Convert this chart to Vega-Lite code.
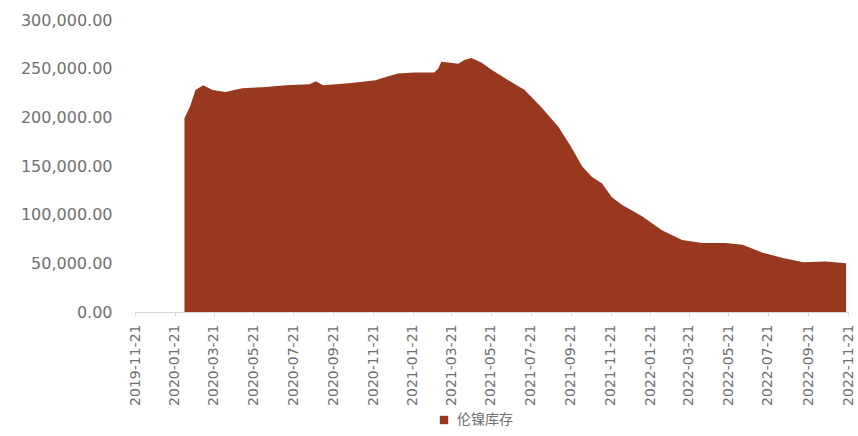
{
  "$schema": "https://vega.github.io/schema/vega-lite/v6.json",
  "width": 713,
  "height": 292,
  "autosize": {"type": "none"},
  "padding": {"left": 135, "top": 20, "right": 10, "bottom": 124},
  "background": "white",
  "config": {"view": {"stroke": null}},
  "data": {
    "values": [
      {"date": "2020-02-05", "stock": 199000, "s": "伦镍库存"},
      {"date": "2020-02-14", "stock": 212000, "s": "伦镍库存"},
      {"date": "2020-02-22", "stock": 228000, "s": "伦镍库存"},
      {"date": "2020-03-05", "stock": 233000, "s": "伦镍库存"},
      {"date": "2020-03-19", "stock": 228000, "s": "伦镍库存"},
      {"date": "2020-04-08", "stock": 226000, "s": "伦镍库存"},
      {"date": "2020-05-04", "stock": 230000, "s": "伦镍库存"},
      {"date": "2020-06-04", "stock": 231000, "s": "伦镍库存"},
      {"date": "2020-07-10", "stock": 233000, "s": "伦镍库存"},
      {"date": "2020-08-15", "stock": 234000, "s": "伦镍库存"},
      {"date": "2020-08-25", "stock": 237000, "s": "伦镍库存"},
      {"date": "2020-09-05", "stock": 233000, "s": "伦镍库存"},
      {"date": "2020-10-15", "stock": 235000, "s": "伦镍库存"},
      {"date": "2020-11-25", "stock": 238000, "s": "伦镍库存"},
      {"date": "2020-12-03", "stock": 240000, "s": "伦镍库存"},
      {"date": "2020-12-29", "stock": 245000, "s": "伦镍库存"},
      {"date": "2021-01-23", "stock": 246000, "s": "伦镍库存"},
      {"date": "2021-02-23", "stock": 246000, "s": "伦镍库存"},
      {"date": "2021-03-01", "stock": 250000, "s": "伦镍库存"},
      {"date": "2021-03-06", "stock": 257000, "s": "伦镍库存"},
      {"date": "2021-03-20", "stock": 256000, "s": "伦镍库存"},
      {"date": "2021-04-01", "stock": 255000, "s": "伦镍库存"},
      {"date": "2021-04-10", "stock": 259000, "s": "伦镍库存"},
      {"date": "2021-04-21", "stock": 261000, "s": "伦镍库存"},
      {"date": "2021-05-07", "stock": 256000, "s": "伦镍库存"},
      {"date": "2021-05-22", "stock": 249000, "s": "伦镍库存"},
      {"date": "2021-06-17", "stock": 238000, "s": "伦镍库存"},
      {"date": "2021-07-12", "stock": 228000, "s": "伦镍库存"},
      {"date": "2021-08-07", "stock": 210000, "s": "伦镍库存"},
      {"date": "2021-09-02", "stock": 190000, "s": "伦镍库存"},
      {"date": "2021-09-22", "stock": 169000, "s": "伦镍库存"},
      {"date": "2021-10-08", "stock": 150000, "s": "伦镍库存"},
      {"date": "2021-10-23", "stock": 139000, "s": "伦镍库存"},
      {"date": "2021-11-08", "stock": 132000, "s": "伦镍库存"},
      {"date": "2021-11-23", "stock": 118000, "s": "伦镍库存"},
      {"date": "2021-12-09", "stock": 110000, "s": "伦镍库存"},
      {"date": "2022-01-09", "stock": 98000, "s": "伦镍库存"},
      {"date": "2022-02-08", "stock": 84000, "s": "伦镍库存"},
      {"date": "2022-03-11", "stock": 74000, "s": "伦镍库存"},
      {"date": "2022-04-11", "stock": 71000, "s": "伦镍库存"},
      {"date": "2022-05-17", "stock": 71000, "s": "伦镍库存"},
      {"date": "2022-06-12", "stock": 69000, "s": "伦镍库存"},
      {"date": "2022-07-13", "stock": 61000, "s": "伦镍库存"},
      {"date": "2022-08-13", "stock": 55500, "s": "伦镍库存"},
      {"date": "2022-09-13", "stock": 51000, "s": "伦镍库存"},
      {"date": "2022-10-18", "stock": 52000, "s": "伦镍库存"},
      {"date": "2022-11-18", "stock": 50000, "s": "伦镍库存"}
    ]
  },
  "mark": {"type": "area", "interpolate": "linear"},
  "encoding": {
    "x": {
      "field": "date",
      "type": "temporal",
      "scale": {"domain": [{"year": 2019, "month": 11, "date": 21, "utc": true}, {"year": 2022, "month": 11, "date": 21, "utc": true}]},
      "axis": {
        "title": null,
        "values": [
          {"year": 2019, "month": 11, "date": 21, "utc": true},
          {"year": 2020, "month": 1, "date": 21, "utc": true},
          {"year": 2020, "month": 3, "date": 21, "utc": true},
          {"year": 2020, "month": 5, "date": 21, "utc": true},
          {"year": 2020, "month": 7, "date": 21, "utc": true},
          {"year": 2020, "month": 9, "date": 21, "utc": true},
          {"year": 2020, "month": 11, "date": 21, "utc": true},
          {"year": 2021, "month": 1, "date": 21, "utc": true},
          {"year": 2021, "month": 3, "date": 21, "utc": true},
          {"year": 2021, "month": 5, "date": 21, "utc": true},
          {"year": 2021, "month": 7, "date": 21, "utc": true},
          {"year": 2021, "month": 9, "date": 21, "utc": true},
          {"year": 2021, "month": 11, "date": 21, "utc": true},
          {"year": 2022, "month": 1, "date": 21, "utc": true},
          {"year": 2022, "month": 3, "date": 21, "utc": true},
          {"year": 2022, "month": 5, "date": 21, "utc": true},
          {"year": 2022, "month": 7, "date": 21, "utc": true},
          {"year": 2022, "month": 9, "date": 21, "utc": true},
          {"year": 2022, "month": 11, "date": 21, "utc": true}
        ],
        "labelExpr": "utcFormat(datum.value, '%Y-%m-%d')",
        "labelAngle": -90,
        "labelAlign": "right",
        "labelBaseline": "middle",
        "labelFont": "DejaVu Sans",
        "labelFontSize": 14,
        "labelColor": "#707070",
        "labelPadding": 8,
        "labelOverlap": false,
        "labelFlush": false,
        "grid": false,
        "domainColor": "#d9d9d9",
        "tickColor": "#d9d9d9",
        "tickSize": 4
      }
    },
    "y": {
      "field": "stock",
      "type": "quantitative",
      "scale": {"domain": [0, 300000]},
      "axis": {
        "title": null,
        "values": [0, 50000, 100000, 150000, 200000, 250000, 300000],
        "format": ",.2f",
        "labelFont": "DejaVu Sans",
        "labelFontSize": 16,
        "labelColor": "#707070",
        "labelPadding": 23,
        "ticks": false,
        "domain": false,
        "grid": false
      }
    },
    "color": {
      "field": "s",
      "type": "nominal",
      "scale": {"range": ["#97381F"]},
      "legend": {
        "title": null,
        "orient": "none",
        "legendX": 302,
        "legendY": 393,
        "symbolType": "square",
        "symbolSize": 70,
        "labelFont": "Noto Sans CJK SC",
        "labelFontSize": 14,
        "labelColor": "#707070",
        "labelOffset": 6
      }
    }
  }
}
